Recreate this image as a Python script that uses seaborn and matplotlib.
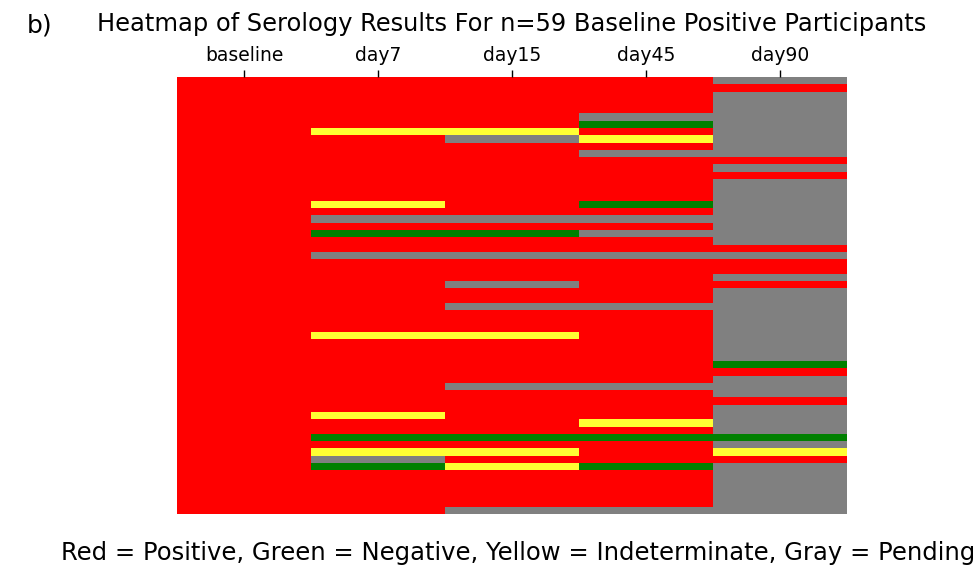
import numpy as np
import pandas as pd
import seaborn as sns
import matplotlib.pyplot as plt
from matplotlib.colors import ListedColormap

# Status per participant (top to bottom), R=positive, G=negative, Y=indeterminate, N=pending
timepoints = ["baseline", "day7", "day15", "day45", "day90"]
baseline = "RRRRRRRRRR" "RRRRRRRRRR" "RRRRRRRRRR" "RRRRRRRRRR" "RRRRRRRRRR" "RRRRRRRRRR"
day7 = "RRRRRRRYRR" "RRRRRRRYRN" "RGRRNRRRRR" "RRRRRYRRRR" "RRRRRRYRRG" "RYNGRRRRRR"
day15 = "RRRRRRRYNR" "RRRRRRRRRN" "RGRRNRRRNR" "RNRRRYRRRR" "RRNRRRRRRG" "RYRYRRRRRN"
day45 = "RRRRRNGRYR" "NRRRRRRGRN" "RNRRNRRRRR" "RNRRRRRRRR" "RRNRRRRYRG" "RRRGRRRRRN"
day90 = "NRNNNNNNNN" "NRNRNNNNNN" "NNNRNRRNRN" "NNNNNNNNNG" "RNNNRNNNNG" "NYRNNNNNNN"

codes = {"R": 0, "G": 1, "Y": 2, "N": 3}
status_colors = ["#ff0000", "#008000", "#ffff33", "#808080"]

df = pd.DataFrame({
    name: [codes[c] for c in col]
    for name, col in zip(timepoints, [baseline, day7, day15, day45, day90])
})

fig = plt.figure(figsize=(9.79, 5.68), dpi=100)
ax = fig.add_axes([0.1808, 0.0951, 0.6844, 0.7693])

sns.heatmap(df, cmap=ListedColormap(status_colors), vmin=-0.5, vmax=3.5,
            cbar=False, yticklabels=False, ax=ax)

ax.xaxis.tick_top()
ax.tick_params(axis="x", top=True, bottom=False, labeltop=True, labelbottom=False,
               length=5, width=1, labelsize=13.5, pad=4)
ax.tick_params(axis="y", left=False)
ax.set_xticklabels(timepoints, rotation=0)
ax.set_xlabel("")
ax.set_ylabel("")

fig.text(0.523, 0.958, "Heatmap of Serology Results For n=59 Baseline Positive Participants",
         ha="center", va="center", fontsize=17.4)
fig.text(0.027, 0.955, "b)", ha="left", va="center", fontsize=18)
fig.text(0.529, 0.026, "Red = Positive, Green = Negative, Yellow = Indeterminate, Gray = Pending",
         ha="center", va="center", fontsize=17.5)

fig.savefig("out.png", dpi=100)
